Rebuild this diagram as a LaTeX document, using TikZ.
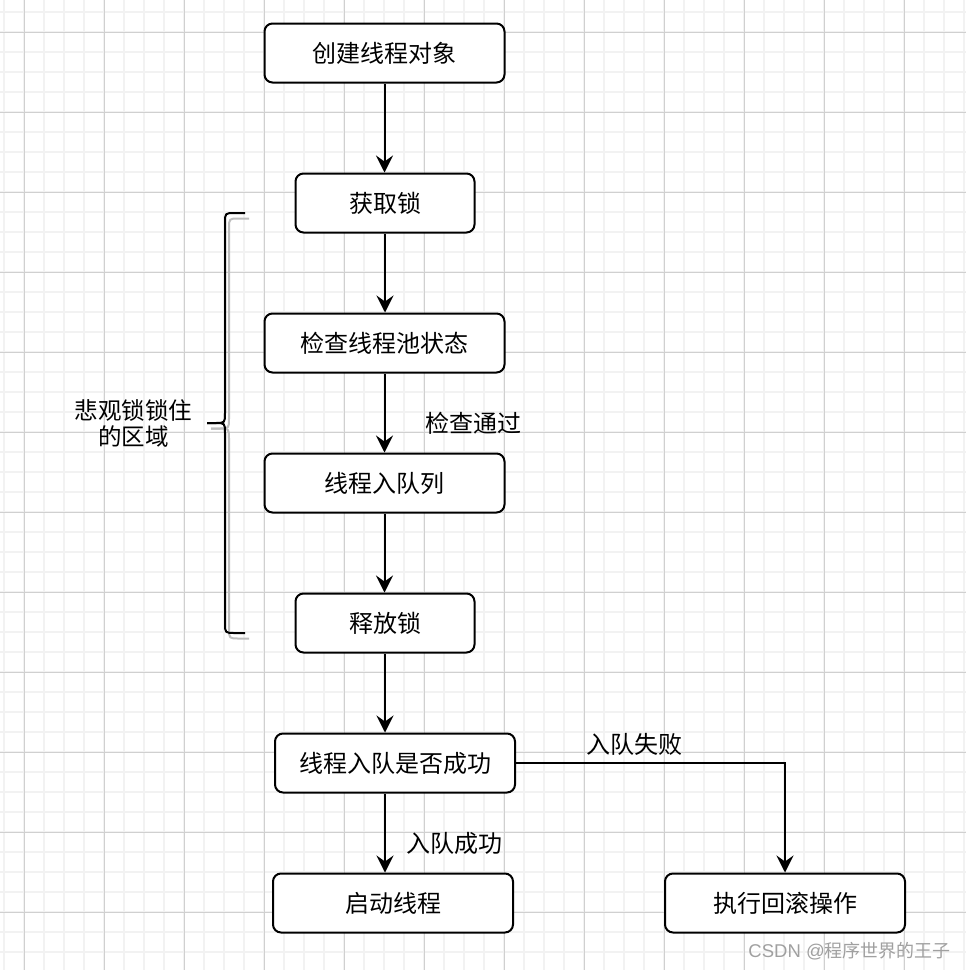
\documentclass[tikz,border=0pt]{standalone}
\usepackage{fontspec}
\setmainfont{Noto Sans CJK SC}
\newfontfamily\wmlatin{Liberation Sans}
\usetikzlibrary{arrows.meta}
\definecolor{gridminor}{HTML}{F2F2F2}
\definecolor{gridmajor}{HTML}{D0D0D0}
\definecolor{shadowgray}{HTML}{BDBDBD}
\definecolor{wmgray}{HTML}{A0A0A0}
\begin{document}
\begin{tikzpicture}[x=1pt,y=-1pt,
  box/.style={draw=black, line width=2pt, rounded corners=8pt, fill=white,
    minimum width=240pt, minimum height=59pt, inner sep=0pt,
    font=\fontsize{24}{28}\selectfont},
  smallbox/.style={box, minimum width=179pt},
  arr/.style={line width=2pt, -{Stealth[length=17pt,width=17pt,inset=6pt]}},
  lbl/.style={font=\fontsize{24}{28}\selectfont, inner sep=0pt},
  bracel/.style={line width=2pt, line join=round}
]
\useasboundingbox (0,0) rectangle (966,970);
\fill[white] (0,0) rectangle (966,970);
% grid
\foreach \gx in {4,24,...,964} \draw[gridminor, line width=1.5pt] (\gx,0) -- (\gx,970);
\foreach \gy in {12,32,...,952} \draw[gridminor, line width=1.5pt] (0,\gy) -- (966,\gy);
\foreach \gx in {24,104,...,904} \draw[gridmajor, line width=1pt] (\gx,0) -- (\gx,970);
\foreach \gy in {32,112,...,912} \draw[gridmajor, line width=1pt] (0,\gy) -- (966,\gy);

% boxes
\node[box] (b1) at (384.5,53) {创建线程对象};
\node[smallbox] (b2) at (385,203) {获取锁};
\node[box] (b3) at (384.5,343) {检查线程池状态};
\node[box] (b4) at (384.5,483) {线程入队列};
\node[smallbox] (b5) at (385,623) {释放锁};
\node[box] (b6) at (395,763) {线程入队是否成功};
\node[box] (b7) at (393,903) {启动线程};
\node[box] (b8) at (785,903) {执行回滚操作};

% connectors
\draw[arr] (b1.south) -- (b1.south |- b2.north);
\draw[arr] (b2.south) -- (b2.south |- b3.north);
\draw[arr] (b3.south) -- (b3.south |- b4.north);
\draw[arr] (b4.south) -- (b4.south |- b5.north);
\draw[arr] (b5.south) -- (b5.south |- b6.north);
\coordinate (c6) at (b5.south |- b6.south);
\draw[arr] (c6) -- (c6 |- b7.north);
\draw[arr] (b6.east) -| (b8.north);

% edge labels
\node[lbl] (l1) at (473.5,423) {检查通过};
\node[lbl] (l2) at (454,843) {入队成功};
\node[lbl] (l3) at (634.5,744) {入队失败};

% brace shadow
\begin{scope}[shift={(4,5.5)}]
\draw[bracel, shadowgray] (245,213) -- (235,213) .. controls (225,213) .. (225,223) -- (225,413)
  .. controls (225,423) .. (215,423) -- (207,423);
\draw[bracel, shadowgray] (207,423) -- (215,423) .. controls (225,423) .. (225,433) -- (225,623)
  .. controls (225,633) .. (235,633) -- (245,633);
\end{scope}
% brace
\draw[bracel] (245,213) -- (235,213) .. controls (225,213) .. (225,223) -- (225,413)
  .. controls (225,423) .. (215,423) -- (207,423);
\draw[bracel] (207,423) -- (215,423) .. controls (225,423) .. (225,433) -- (225,623)
  .. controls (225,633) .. (235,633) -- (245,633);
\node[lbl, align=center, font=\fontsize{23.5}{26}\selectfont] (bl) at (133.5,423.5) {悲观锁锁住\\的区域};

% watermark
\node[anchor=east, inner sep=0pt, text=wmgray, font=\fontsize{18}{20}\selectfont] (wm) at (951,951) {{\wmlatin\fontsize{18.5}{20}\selectfont CSDN @}程序世界的王子};
\end{tikzpicture}
\end{document}
